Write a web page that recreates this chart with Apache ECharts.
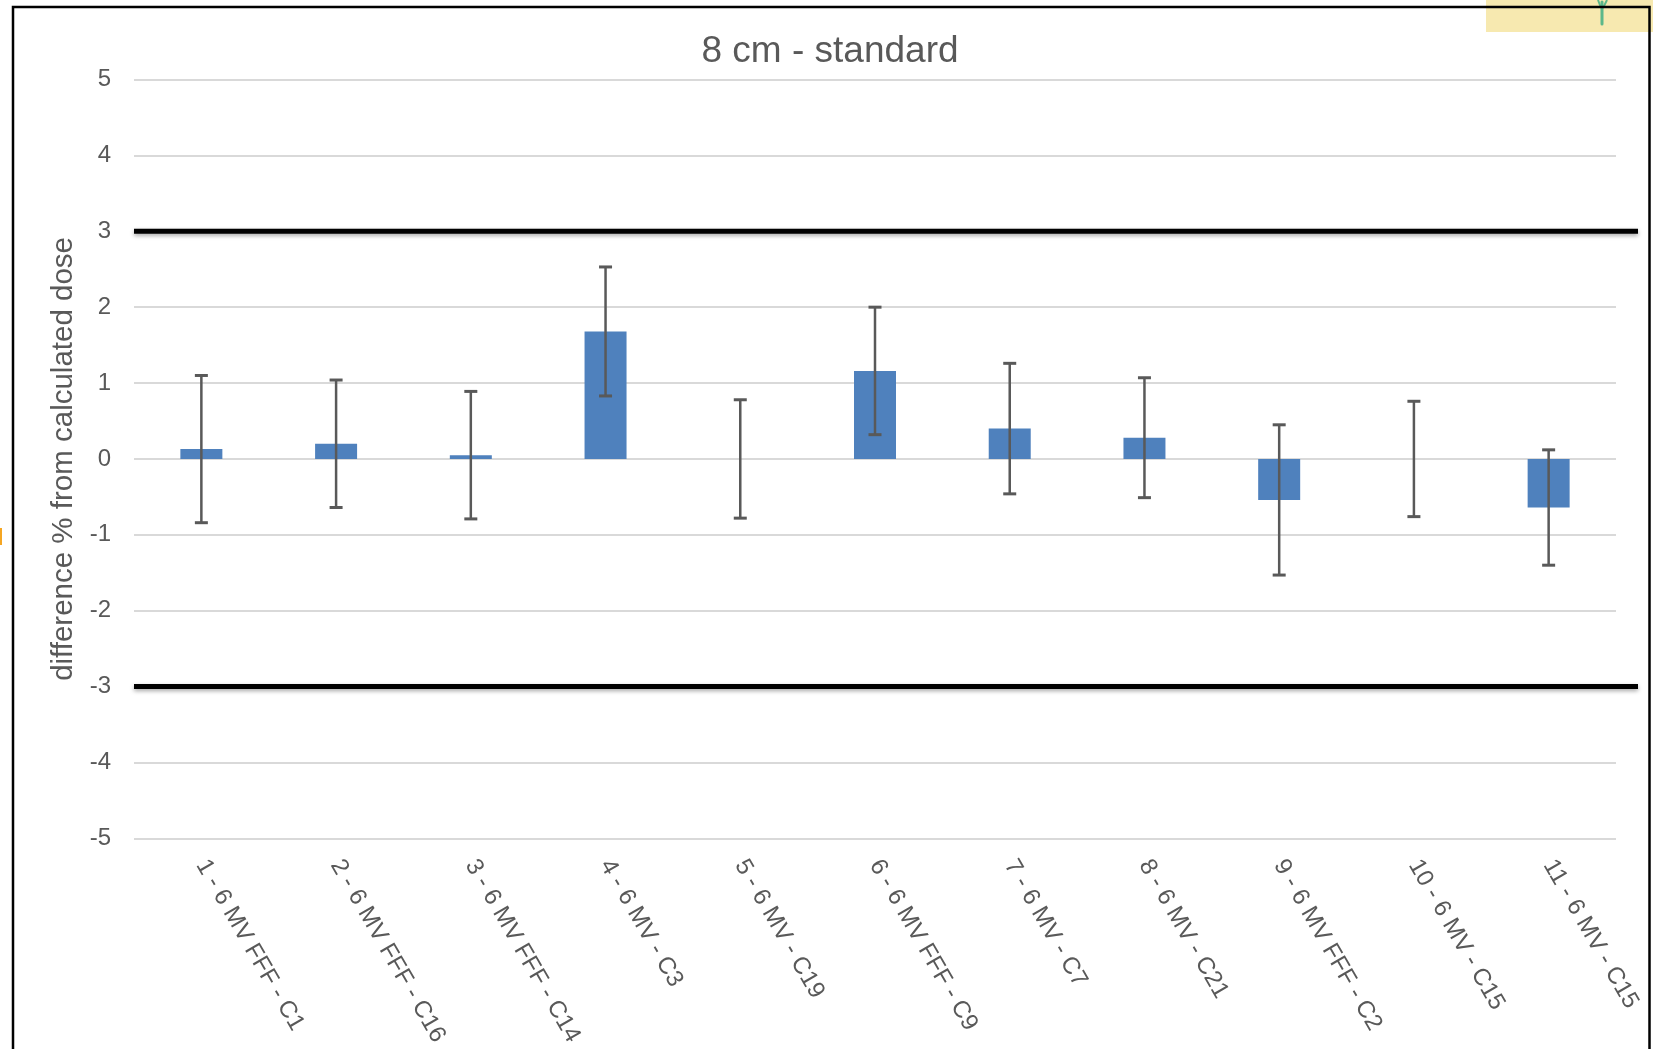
<!DOCTYPE html>
<html>
<head>
<meta charset="utf-8">
<script src="https://cdn.jsdelivr.net/npm/echarts@6/dist/echarts.min.js"></script>
<style>
html,body{margin:0;padding:0;background:#fff;}
#chart{width:1653px;height:1049px;}
</style>
</head>
<body>
<div id="chart"></div>
<script>
const titleText = '8 cm - standard';
const yAxisName = 'difference % from calculated dose';
const categories = ['1 - 6 MV FFF - C1', '2 - 6 MV FFF - C16', '3 - 6 MV FFF - C14', '4 - 6 MV - C3', '5 - 6 MV - C19', '6 - 6 MV FFF - C9', '7 - 6 MV - C7', '8 - 6 MV - C21', '9 - 6 MV FFF - C2', '10 - 6 MV - C15', '11 - 6 MV - C15'];
const values = [0.13, 0.20, 0.05, 1.68, 0, 1.16, 0.40, 0.28, -0.54, 0, -0.64];
const errors = [0.97, 0.84, 0.84, 0.85, 0.78, 0.84, 0.86, 0.79, 0.99, 0.76, 0.76];
const thresholds = [3, -3];
const yTicks = [-5, -4, -3, -2, -1, 0, 1, 2, 3, 4, 5];

const FONT = '"Liberation Sans", Arial, sans-serif';
const TXT = '#595959';

const errData = values.map((v, i) => [i, v - errors[i], v + errors[i]]);

const chart = echarts.init(document.getElementById('chart'), null, {renderer: 'canvas'});

const option = {
  animation: false,
  backgroundColor: '#ffffff',
  title: {
    text: titleText,
    left: 825, top: 28, textAlign: 'center',
    textStyle: {fontFamily: FONT, fontSize: 37, fontWeight: 'normal', color: TXT}
  },
  grid: {left: 134, right: 37, top: 79.5, bottom: 208.5, containLabel: false},
  xAxis: {
    type: 'category',
    data: categories,
    axisLine: {show: false},
    axisTick: {show: false},
    axisLabel: {
      interval: 0, rotate: -60, margin: 23,
      fontFamily: FONT, fontSize: 24, color: TXT
    },
    splitLine: {show: false}
  },
  yAxis: {
    type: 'value',
    min: yTicks[0], max: yTicks[yTicks.length - 1], interval: 1,
    name: yAxisName,
    nameLocation: 'middle',
    nameGap: 53,
    nameRotate: 90,
    nameTextStyle: {fontFamily: FONT, fontSize: 29.5, color: TXT},
    axisLine: {show: false},
    axisTick: {show: false},
    axisLabel: {margin: 23, fontFamily: FONT, fontSize: 24, color: TXT, padding: [3, 0, 0, 0]},
    splitLine: {lineStyle: {color: '#d9d9d9', width: 2}}
  },
  series: [
    {
      type: 'bar',
      data: values,
      barWidth: 42,
      itemStyle: {color: '#4f81bd', borderWidth: 0}
    },
    {
      type: 'custom',
      data: errData,
      z: 5,
      renderItem: function (params, api) {
        const x = api.value(0);
        const lo = api.coord([x, api.value(1)]);
        const hi = api.coord([x, api.value(2)]);
        const hw = 6.5;
        const st = {stroke: '#595959', lineWidth: 2.5};
        return {
          type: 'group',
          children: [
            {type: 'line', shape: {x1: hi[0], y1: hi[1], x2: lo[0], y2: lo[1]}, style: st},
            {type: 'line', shape: {x1: hi[0] - hw, y1: hi[1], x2: hi[0] + hw, y2: hi[1]}, style: {stroke: '#595959', lineWidth: 3}},
            {type: 'line', shape: {x1: lo[0] - hw, y1: lo[1], x2: lo[0] + hw, y2: lo[1]}, style: {stroke: '#595959', lineWidth: 3}}
          ]
        };
      }
    }
  ]
};
chart.setOption(option);

// Overlays: threshold lines (positioned via the axis scale), frame and screenshot decorations
const gfx = [];
thresholds.forEach(function (t) {
  const y = chart.convertToPixel({yAxisIndex: 0}, t);
  gfx.push({
    type: 'line', z: 100,
    shape: {x1: 134, y1: y, x2: 1638, y2: y},
    style: {stroke: '#000', lineWidth: 5, shadowBlur: 4, shadowColor: 'rgba(0,0,0,0.35)', shadowOffsetY: 2}
  });
});
gfx.push({type: 'rect', z: 90, shape: {x: 1486, y: 0, width: 170, height: 32}, style: {fill: '#f7e9b0'}});
gfx.push({type: 'line', z: 91, shape: {x1: 1602, y1: 2, x2: 1602, y2: 24}, style: {stroke: '#5cb88a', lineWidth: 3, lineCap: 'round'}});
gfx.push({type: 'line', z: 91, shape: {x1: 1598, y1: 0, x2: 1601, y2: 8}, style: {stroke: '#5cb88a', lineWidth: 2}});
gfx.push({type: 'line', z: 91, shape: {x1: 1607, y1: 0, x2: 1603, y2: 8}, style: {stroke: '#5cb88a', lineWidth: 2}});
gfx.push({type: 'rect', z: 91, shape: {x: 0, y: 528, width: 2, height: 17}, style: {fill: '#f5a623'}});
gfx.push({type: 'rect', z: 110, shape: {x: 13, y: 7, width: 1636.5, height: 1100}, style: {fill: 'none', stroke: '#000', lineWidth: 2.5}});
chart.setOption({graphic: gfx});
</script>
</body>
</html>
